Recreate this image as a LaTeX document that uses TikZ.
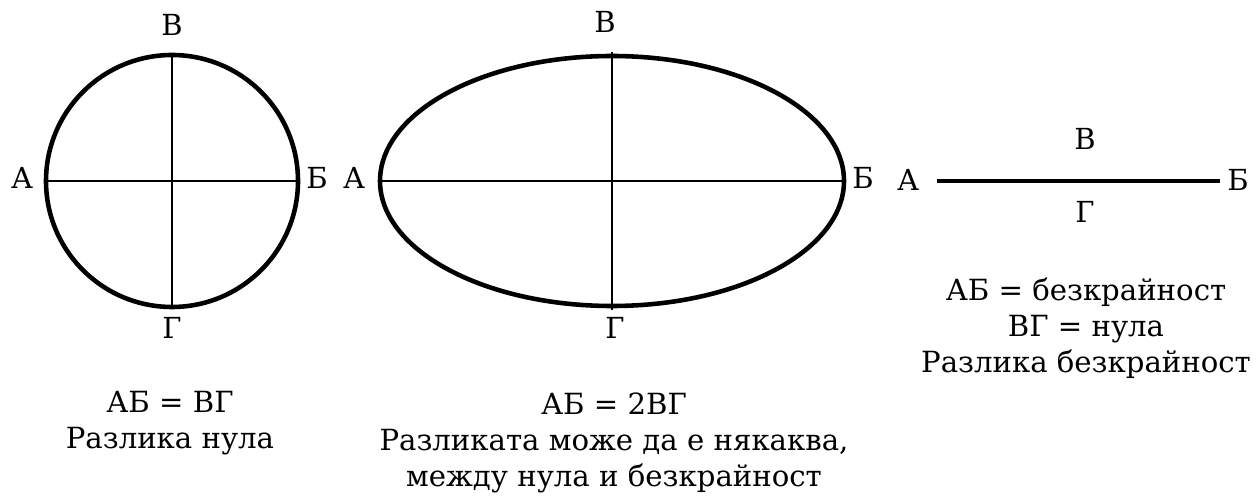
\documentclass[tikz,border=0pt]{standalone}
\usepackage{fontspec}
\setmainfont{DejaVu Serif}
\usepackage{tikz}
\usetikzlibrary{shapes.geometric,positioning}
\tikzset{
  rimline/.style={draw, line width=2.6pt, inner sep=0pt, outer sep=0pt},
  axisline/.style={line width=1.1pt},
  segline/.style={line width=2.8pt},
  ptlabel/.style={font=\fontsize{16.5}{19.8}\selectfont, inner sep=0pt},
  notetext/.style={font=\fontsize{16.6}{20.4}\selectfont, align=center, inner sep=0pt},
}
\begin{document}
\begin{tikzpicture}[x=1cm,y=1cm]
  \useasboundingbox (0,0) rectangle (25.18,-10);

  % circle
  \node[rimline, circle, minimum size=5.04cm] (circ) at (3.44,-3.62) {};
  \draw[axisline] ([xshift=-0.04cm]circ.west) -- (circ.east);
  \draw[axisline] (circ.north) -- (circ.south);
  \node[ptlabel] (cA) at (0.44,-3.56) {А};
  \node[ptlabel] (cB) at (6.34,-3.56) {Б};
  \node[ptlabel] (cV) at (3.44,-0.50) {В};
  \node[ptlabel] (cG) at (3.44,-6.56) {Г};
  \node[notetext] (cnote) at (3.40,-8.46) {АБ = ВГ\\Разлика нула};

  % ellipse
  \node[rimline, ellipse, minimum width=9.28cm, minimum height=5.0cm] (ell) at (12.24,-3.62) {};
  \draw[axisline] (ell.west) -- (ell.east);
  \draw[axisline] ([yshift=0.08cm]ell.north) -- ([yshift=-0.08cm]ell.south);
  \node[ptlabel] (eA) at (7.08,-3.56) {А};
  \node[ptlabel] (eB) at (17.26,-3.56) {Б};
  \node[ptlabel] (eV) at (12.10,-0.44) {В};
  \node[ptlabel] (eG) at (12.30,-6.56) {Г};
  \node[notetext] (enote) at (12.28,-8.86)
    {АБ = 2ВГ\\Разликата може да е някаква,\\между нула и безкрайност};

  % segment
  \coordinate (sA) at (18.74,-3.62);
  \coordinate (sB) at (24.40,-3.62);
  \draw[segline] (sA) -- (sB);
  \node[ptlabel] (lA) at (18.16,-3.60) {А};
  \node[ptlabel] (lB) at (24.76,-3.60) {Б};
  \node[ptlabel] (lV) at (21.70,-2.78) {В};
  \node[ptlabel] (lG) at (21.70,-4.24) {Г};
  \node[notetext] (lnote) at (21.72,-6.56)
    {АБ = безкрайност\\ВГ = нула\\Разлика безкрайност};
\end{tikzpicture}
\end{document}
